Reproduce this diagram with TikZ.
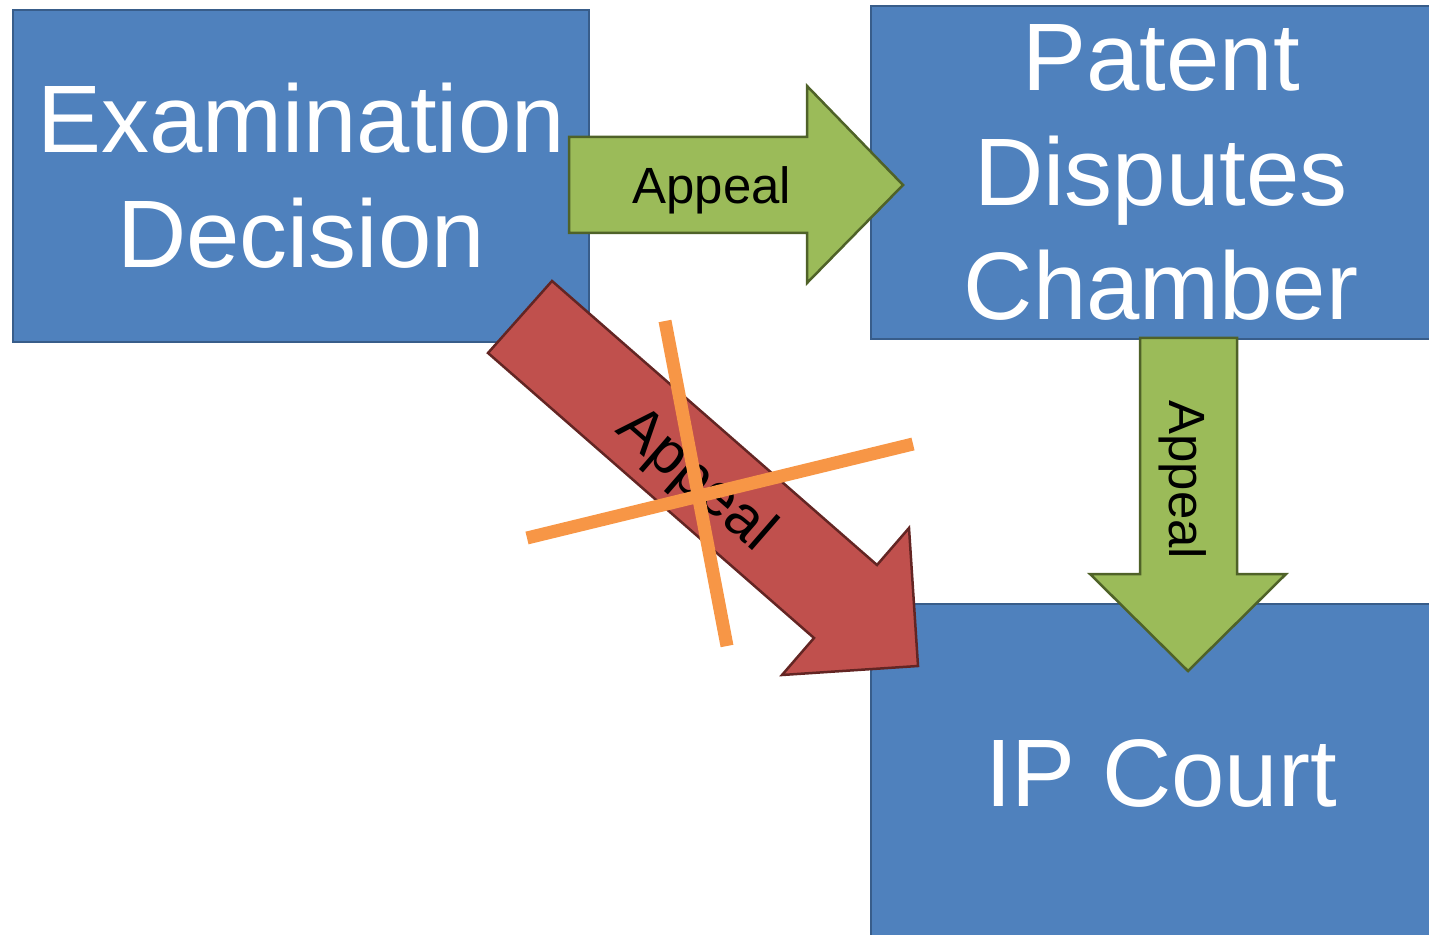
\documentclass[tikz,border=0pt]{standalone}
\usepackage{fontspec}
\setmainfont{Liberation Sans}
\definecolor{boxblue}{HTML}{4F81BD}
\definecolor{boxline}{HTML}{385D8A}
\definecolor{arrgreen}{HTML}{9BBB59}
\definecolor{arrgreenline}{HTML}{4F6228}
\definecolor{arrred}{HTML}{C0504D}
\definecolor{arrredline}{HTML}{632523}
\definecolor{crossorange}{HTML}{F79646}

\begin{document}
\begin{tikzpicture}[x=0.02cm,y=-0.02cm,
    box/.style={draw=boxline,fill=boxblue,line width=0.05cm,inner sep=0,align=center,text=white,font=\fontsize{54.6}{65.4}\selectfont},
    greenarrow/.style={draw=arrgreenline,fill=arrgreen,line width=0.05cm},
    redarrow/.style={draw=arrredline,fill=arrred,line width=0.05cm},
    appeal/.style={inner sep=0,text height=20.8pt,text depth=0pt,font=\fontsize{29}{34}\selectfont},
    cross/.style={draw=crossorange,line width=0.26cm}]
        \useasboundingbox (0,0) rectangle (1429,935);
        \clip (0,0) rectangle (1429,935);
        \node[box,minimum width=11.52cm,minimum height=6.64cm] (exam) at (301,176) {Examination\\Decision};
        \node[box,minimum width=11.6cm,minimum height=6.66cm] (pdc) at (1161,172.5) {Patent\\Disputes\\Chamber};
        \node[box,minimum width=11.6cm,minimum height=6.76cm] (court) at (1161,773) {IP Court};
        % appeal exam -> chamber
        \draw[greenarrow] (569,137) -- (807,137) -- (807,86) -- (903,185) -- (807,283) -- (807,233) -- (569,233) -- cycle;
        \node[appeal] (a1) at (712,185) {Appeal};
        % direct appeal, not possible
        \draw[redarrow] (552,281) -- (877,565) -- (909,528) -- (918,666) -- (782,675) -- (814,638) -- (488,353) -- cycle;
        \node[appeal,rotate=-41,text height=24.3pt,font=\fontsize{34}{40}\selectfont] (a2) at (699,476) {Appeal};
        % appeal chamber -> court
        \draw[greenarrow] (1140,338) -- (1237,338) -- (1237,574) -- (1286,574) -- (1188,671) -- (1090,574) -- (1140,574) -- cycle;
        \node[appeal,rotate=-90] (a3) at (1188,480) {Appeal};
        \coordinate (c1) at (665,321);
        \coordinate (c2) at (727,646);
        \coordinate (c3) at (527,538);
        \coordinate (c4) at (913,444);
        \draw[cross] (c1) -- (c2) (c3) -- (c4);
\end{tikzpicture}
\end{document}
